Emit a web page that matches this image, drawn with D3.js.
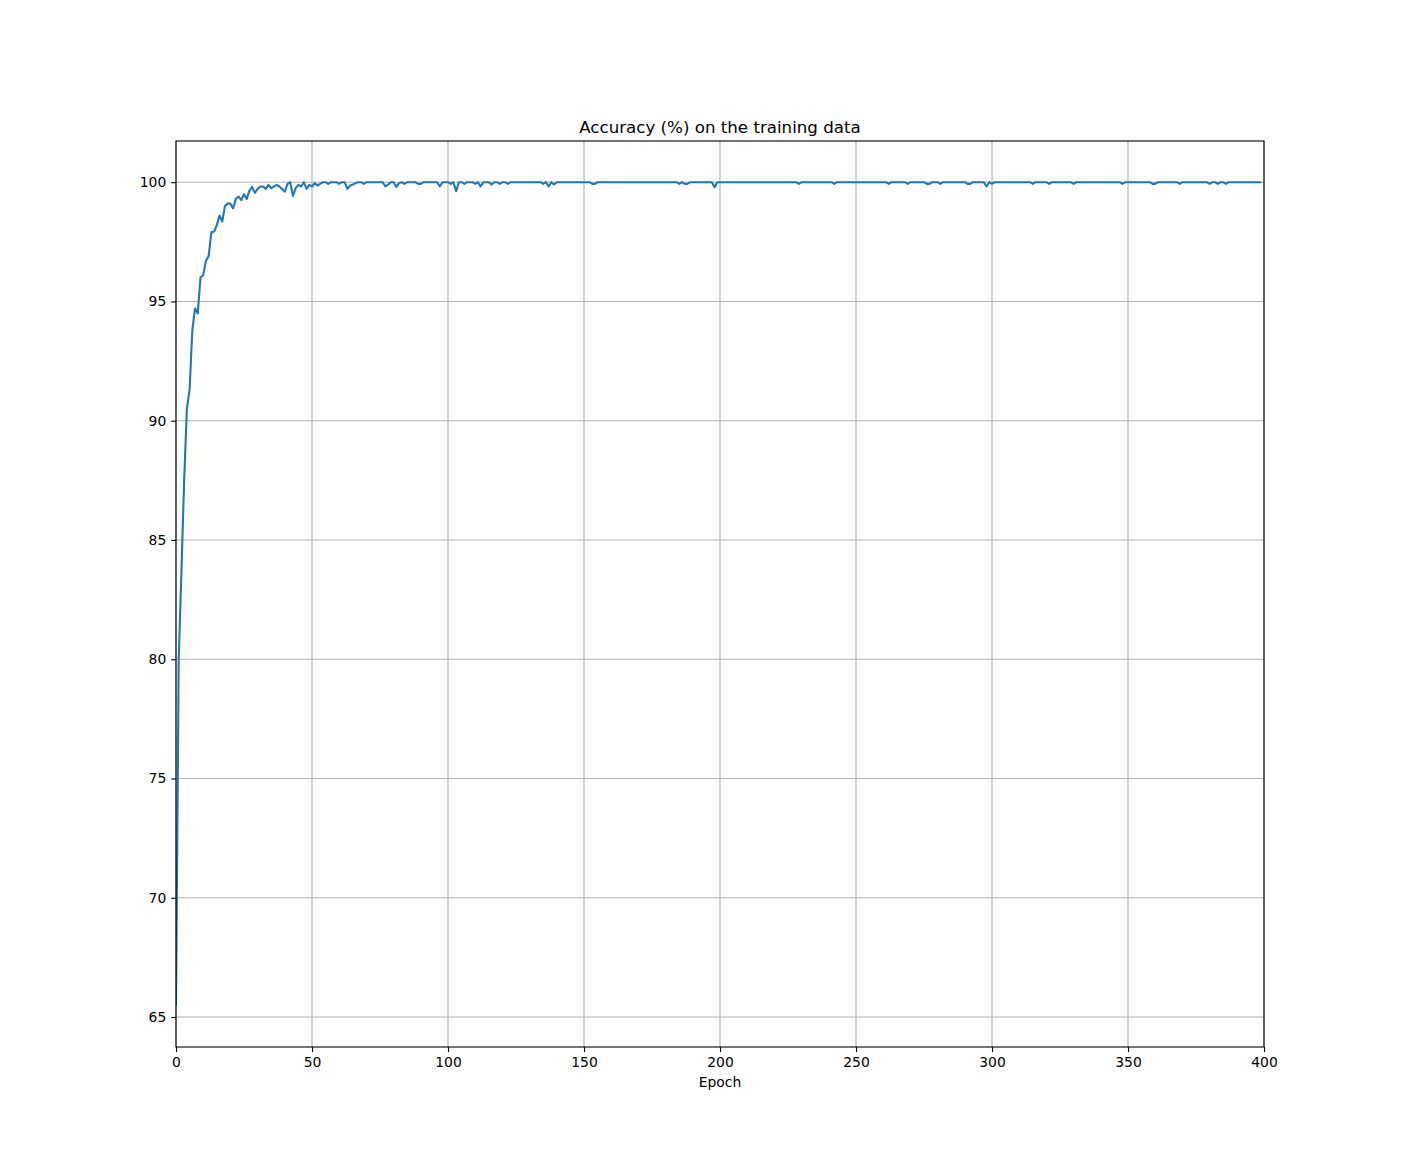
<!DOCTYPE html>
<html>
<head>
<meta charset="utf-8">
<script src="https://cdn.jsdelivr.net/npm/d3@7"></script>
<style>
    body { margin: 0; background: #fff; }
    svg text { font-family: "DejaVu Sans", sans-serif; fill: #000; }
</style>
</head>
<body>
<div id="chart"></div>
<script>
// Training accuracy (%) per epoch, epoch = index (0 .. 399)
var accuracy = [
    /*   0 */ 65.47, 80.0, 83.7, 87.5, 90.5, 91.3, 93.8, 94.7, 94.5, 96.0, 96.1, 96.7, 96.9, 97.9, 97.93, 98.2, 98.6, 98.35, 99.0, 99.1,
    /*  20 */ 99.1, 98.9, 99.3, 99.4, 99.25, 99.5, 99.3, 99.65, 99.8, 99.55, 99.72, 99.82, 99.82, 99.72, 99.89, 99.75, 99.82, 99.89, 99.82, 99.72,
    /*  40 */ 99.6, 99.93, 100, 99.43, 99.75, 99.89, 99.82, 100, 99.72, 99.89, 99.82, 99.96, 99.86, 99.93, 100, 100, 99.93, 100, 100, 100,
    /*  60 */ 99.93, 100, 100, 99.72, 99.86, 99.9, 99.96, 100, 100, 99.93, 100, 100, 100, 100, 100, 100, 100, 99.82, 99.9, 100,
    /*  80 */ 100, 99.8, 99.96, 100, 99.93, 100, 100, 100, 100, 99.93, 99.93, 100, 100, 100, 100, 100, 100, 99.82, 100, 100,
    /* 100 */ 100, 99.93, 100, 99.62, 100, 100, 99.93, 100, 100, 100, 99.93, 100, 99.82, 100, 100, 100, 99.9, 100, 100, 99.93,
    /* 120 */ 100, 100, 99.93, 100, 100, 100, 100, 100, 100, 100, 100, 100, 100, 100, 100, 99.93, 100, 99.82, 100, 99.9,
    /* 140 */ 100, 100, 100, 100, 100, 100, 100, 100, 100, 100, 100, 100, 100, 99.93, 99.93, 100, 100, 100, 100, 100,
    /* 160 */ 100, 100, 100, 100, 100, 100, 100, 100, 100, 100, 100, 100, 100, 100, 100, 100, 100, 100, 100, 100,
    /* 180 */ 100, 100, 100, 100, 100, 99.93, 100, 99.93, 99.93, 100, 100, 100, 100, 100, 100, 100, 100, 100, 99.79, 100,
    /* 200 */ 100, 100, 100, 100, 100, 100, 100, 100, 100, 100, 100, 100, 100, 100, 100, 100, 100, 100, 100, 100,
    /* 220 */ 100, 100, 100, 100, 100, 100, 100, 100, 100, 99.93, 100, 100, 100, 100, 100, 100, 100, 100, 100, 100,
    /* 240 */ 100, 100, 99.93, 100, 100, 100, 100, 100, 100, 100, 100, 100, 100, 100, 100, 100, 100, 100, 100, 100,
    /* 260 */ 100, 100, 99.93, 100, 100, 100, 100, 100, 100, 99.93, 100, 100, 100, 100, 100, 100, 99.93, 99.93, 100, 100,
    /* 280 */ 100, 99.93, 100, 100, 100, 100, 100, 100, 100, 100, 100, 99.93, 99.93, 100, 100, 100, 100, 100, 99.82, 100,
    /* 300 */ 99.93, 100, 100, 100, 100, 100, 100, 100, 100, 100, 100, 100, 100, 100, 100, 99.93, 100, 100, 100, 100,
    /* 320 */ 100, 99.93, 100, 100, 100, 100, 100, 100, 100, 100, 99.93, 100, 100, 100, 100, 100, 100, 100, 100, 100,
    /* 340 */ 100, 100, 100, 100, 100, 100, 100, 100, 99.93, 100, 100, 100, 100, 100, 100, 100, 100, 100, 100, 99.93,
    /* 360 */ 99.93, 100, 100, 100, 100, 100, 100, 100, 100, 99.93, 100, 100, 100, 100, 100, 100, 100, 100, 100, 100,
    /* 380 */ 99.93, 100, 100, 99.93, 100, 100, 99.93, 100, 100, 100, 100, 100, 100, 100, 100, 100, 100, 100, 100, 100
];

var xTicks = [0, 50, 100, 150, 200, 250, 300, 350, 400];
var yTicks = [65, 70, 75, 80, 85, 90, 95, 100];
var xDomain = [0, 400];

var chartTitle = 'Accuracy (%) on the training data',
    xLabel = 'Epoch';

var width = 1404,
    height = 1176,
    margin = {top: 141, right: 140, bottom: 129, left: 176},
    innerW = width - margin.left - margin.right,
    innerH = height - margin.top - margin.bottom;

// matplotlib style autoscale: 5% padding on the data range
var yMin = d3.min(accuracy),
    yMax = d3.max(accuracy),
    pad = (yMax - yMin) * 0.05;

var x = d3.scaleLinear().domain(xDomain).range([0, innerW]),
    y = d3.scaleLinear().domain([yMin - pad, yMax + pad]).range([innerH, 0]);

var svg = d3.select('#chart').append('svg')
    .attr('width', width)
    .attr('height', height);

var g = svg.append('g')
    .attr('transform', 'translate(' + margin.left + ',' + margin.top + ')');

g.append('clipPath').attr('id', 'plotClip')
    .append('rect')
    .attr('width', innerW)
    .attr('height', innerH);

// grid lines (below the data line)
g.append('g')
    .attr('class', 'grid')
    .selectAll('line.vx')
    .data(xTicks)
    .enter().append('line')
    .attr('x1', function(d) { return x(d); })
    .attr('x2', function(d) { return x(d); })
    .attr('y1', 0)
    .attr('y2', innerH)
    .attr('stroke', '#b0b0b0')
    .attr('stroke-width', 1.1);

g.select('.grid')
    .selectAll('line.hy')
    .data(yTicks)
    .enter().append('line')
    .attr('x1', 0)
    .attr('x2', innerW)
    .attr('y1', function(d) { return y(d); })
    .attr('y2', function(d) { return y(d); })
    .attr('stroke', '#b0b0b0')
    .attr('stroke-width', 1.1);

var line = d3.line()
    .x(function(d, i) { return x(i); })
    .y(function(d) { return y(d); });

g.append('path')
    .datum(accuracy)
    .attr('clip-path', 'url(#plotClip)')
    .attr('d', line)
    .attr('fill', 'none')
    .attr('stroke', '#1f77b4')
    .attr('stroke-width', 2.08)
    .attr('stroke-linejoin', 'round');

// axes
var xAxis = d3.axisBottom(x)
        .tickValues(xTicks)
        .tickSize(4.86)
        .tickPadding(4.86)
        .tickFormat(d3.format('d')),
    yAxis = d3.axisLeft(y)
        .tickValues(yTicks)
        .tickSize(4.86)
        .tickPadding(4.86)
        .tickFormat(d3.format('d'));

var gx = g.append('g')
    .attr('transform', 'translate(0,' + innerH + ')')
    .call(xAxis);

var gy = g.append('g')
    .call(yAxis);

[gx, gy].forEach(function(ax) {
    ax.select('.domain').remove();
    ax.selectAll('.tick line').attr('stroke', '#000').attr('stroke-width', 1.1);
    ax.selectAll('.tick text')
        .style('font-family', '"DejaVu Sans", sans-serif')
        .style('font-size', '13.9px')
        .attr('fill', '#000');
});

// frame drawn on top of the line, like the spines
g.append('rect')
    .attr('width', innerW)
    .attr('height', innerH)
    .attr('fill', 'none')
    .attr('stroke', '#000')
    .attr('stroke-width', 1.1);

svg.append('text')
    .attr('x', margin.left + innerW / 2)
    .attr('y', margin.top - 8.3)
    .attr('text-anchor', 'middle')
    .style('font-size', '16.67px')
    .text(chartTitle);

svg.append('text')
    .attr('x', margin.left + innerW / 2)
    .attr('y', margin.top + innerH + 40)
    .attr('text-anchor', 'middle')
    .style('font-size', '13.9px')
    .text(xLabel);
</script>
</body>
</html>
